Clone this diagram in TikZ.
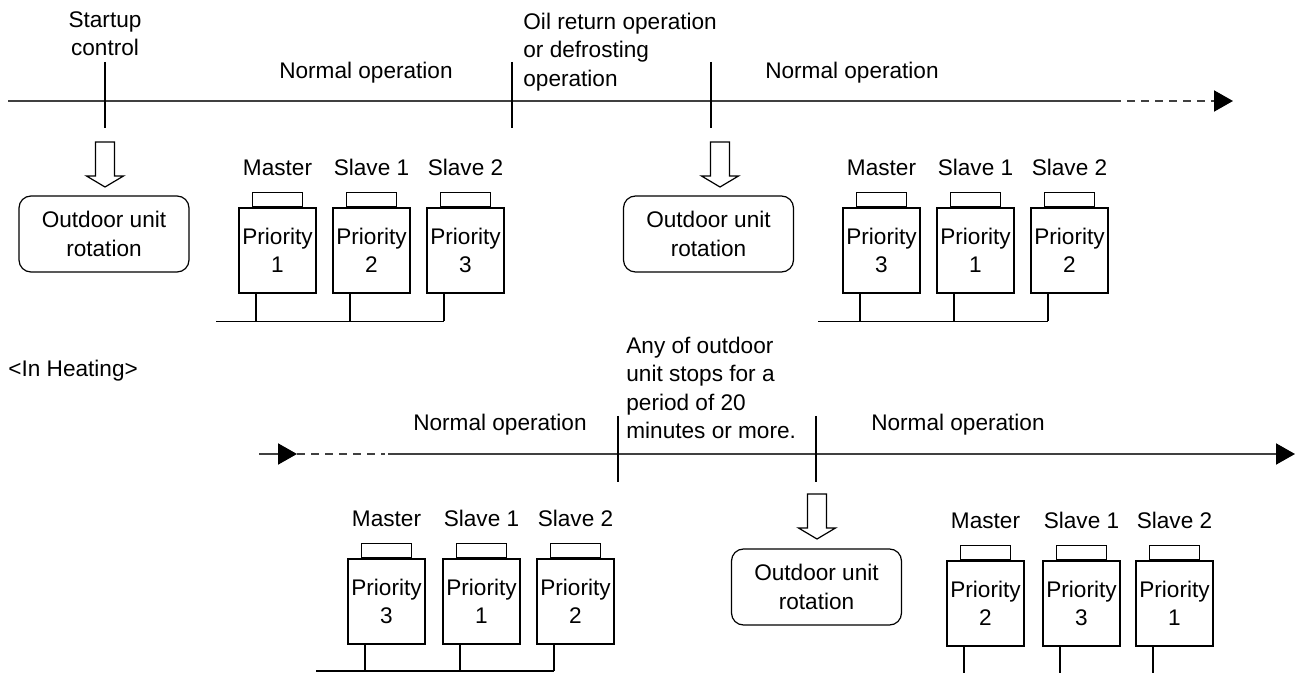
\documentclass[tikz,border=0pt]{standalone}
\usepackage{fontspec}
\setmainfont{Liberation Sans}
\usetikzlibrary{positioning, arrows.meta, calc}
\definecolor{axis}{HTML}{404040}

\begin{document}
\begin{tikzpicture}[x=0.5pt, y=-0.5pt,
      every node/.style={font=\fontsize{11.3}{14.2}\selectfont, align=center, inner sep=0pt},
      unitbody/.style={draw, line width=0.6pt, minimum width=38.5pt, minimum height=42.5pt},
      unittab/.style={draw, line width=0.6pt, minimum width=25pt, minimum height=7pt},
      rotbox/.style={draw, line width=0.6pt, rounded corners=6pt, minimum width=85pt, minimum height=38pt},
      axisline/.style={draw=axis, line width=1pt},
      tickline/.style={line width=0.7pt},
      wire/.style={line width=0.6pt},
      tip/.style={-{Triangle[length=9.5pt, width=10.5pt, color=black]}},
      hollow/.pic={\draw[line width=0.6pt] (-9.5,0) -- (-9.5,34) -- (-18.5,34) -- (0,45) -- (18.5,34) -- (9.5,34) -- (9.5,0) -- cycle;}]
    \useasboundingbox (0,0) rectangle (1297,673);

    % upper time line
    \coordinate (ta) at (8,101);
    \coordinate (tb) at (1121,101);
    \coordinate (tc) at (1127,101);
    \coordinate (td) at (1233,101);
    \draw[axisline] (ta) -- (tb);
    \draw[axisline, dash pattern=on 4pt off 3pt, tip] (tc) -- (td);
    \draw[tickline] (105,62) -- (105,128);
    \draw[tickline] (512,62) -- (512,128);
    \draw[tickline] (711,62) -- (711,128);

    \node (startup) at (105,34) {Startup\\control};
    \node (norm1) at (366,73) {Normal operation};
    \node[align=left, anchor=west] (oil) at (523,52) {Oil return operation\\or defrosting\\operation};
    \node (norm2) at (852,73) {Normal operation};

    \pic at (105,142) {hollow};
    \pic at (720,142) {hollow};
    \node[rotbox] (rot1) at (104,234) {Outdoor unit\\rotation};
    \node[rotbox] (rot2) at (708.5,234) {Outdoor unit\\rotation};

    % upper unit groups
    \coordinate (busa) at (216,321.5);
    \foreach \cx/\role/\pri [count=\i] in {277.5/Master/1, 371.5/Slave 1/2, 465.5/Slave 2/3} {
      \node[unitbody] (ua\i) at (\cx,250.5) {Priority\\\pri};
      \node[unittab, above=0pt of ua\i] (tba\i) {};
      \node[above=8pt of tba\i] (lba\i) {\role};
      \draw[wire] ([xshift=-10.75pt]ua\i.south) -- ([xshift=-10.75pt]ua\i.south |- busa);
    }
    \draw[wire] (busa) -- ([xshift=-10.75pt]ua3.south |- busa);

    \coordinate (busb) at (818,321.5);
    \foreach \cx/\role/\pri [count=\i] in {881.5/Master/3, 975.5/Slave 1/1, 1069.5/Slave 2/2} {
      \node[unitbody] (ub\i) at (\cx,250.5) {Priority\\\pri};
      \node[unittab, above=0pt of ub\i] (tbb\i) {};
      \node[above=8pt of tbb\i] (lbb\i) {\role};
      \draw[wire] ([xshift=-10.75pt]ub\i.south) -- ([xshift=-10.75pt]ub\i.south |- busb);
    }
    \draw[wire] (busb) -- ([xshift=-10.75pt]ub3.south |- busb);

    \node[anchor=west] (heating) at (8,371) {<In Heating>};

    % lower time line
    \coordinate (ba) at (259,454);
    \coordinate (bb) at (297,454);
    \coordinate (bc) at (385,454);
    \coordinate (bd) at (388,454);
    \coordinate (be) at (1295,454);
    \draw[axisline, tip] (ba) -- (bb);
    \draw[axisline, dash pattern=on 4pt off 3pt] (bb) -- (bc);
    \draw[axisline, tip] (bd) -- (be);
    \draw[tickline] (618,416) -- (618,482);
    \draw[tickline] (816,416) -- (816,482);

    \node (norm3) at (500,425) {Normal operation};
    \node[align=left, anchor=west] (stop) at (626,388) {Any of outdoor\\unit stops for a\\period of 20\\minutes or more.};
    \node (norm4) at (958,425) {Normal operation};

    \pic at (817,494) {hollow};
    \node[rotbox] (rot3) at (816.5,587) {Outdoor unit\\rotation};

    % lower unit groups
    \coordinate (busc) at (316,671);
    \foreach \cx/\role/\pri [count=\i] in {386.5/Master/3, 481.5/Slave 1/1, 575.5/Slave 2/2} {
      \node[unitbody] (uc\i) at (\cx,601.5) {Priority\\\pri};
      \node[unittab, above=0pt of uc\i] (tbc\i) {};
      \node[above=8pt of tbc\i] (lbc\i) {\role};
      \draw[wire] ([xshift=-10.75pt]uc\i.south) -- ([xshift=-10.75pt]uc\i.south |- busc);
    }
    \draw[wire] (busc) -- ([xshift=-10.75pt]uc3.south |- busc);

    \coordinate (busd) at (947,673);
    \foreach \cx/\role/\pri [count=\i] in {985.5/Master/2, 1081.5/Slave 1/3, 1174.5/Slave 2/1} {
      \node[unitbody] (ud\i) at (\cx,603.5) {Priority\\\pri};
      \node[unittab, above=0pt of ud\i] (tbd\i) {};
      \node[above=8pt of tbd\i] (lbd\i) {\role};
      \draw[wire] ([xshift=-10.75pt]ud\i.south) -- ([xshift=-10.75pt]ud\i.south |- busd);
    }
  \end{tikzpicture}
\end{document}
